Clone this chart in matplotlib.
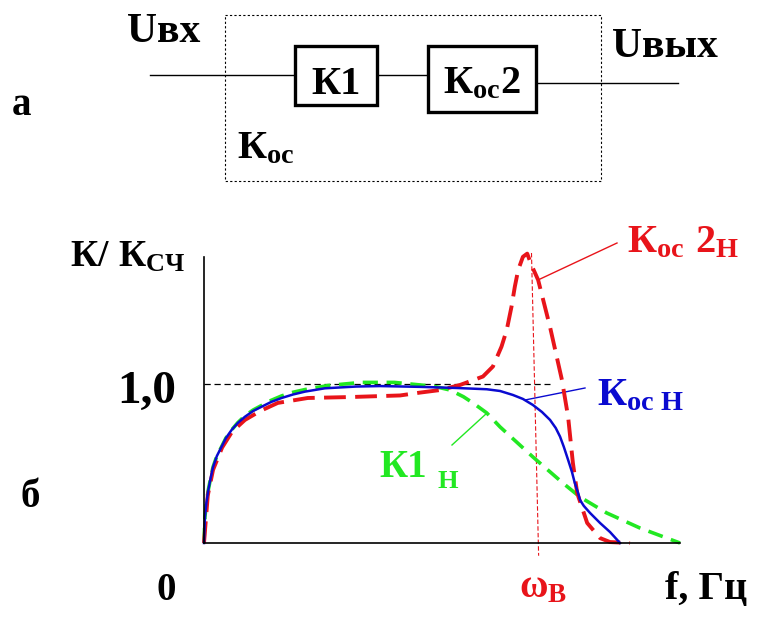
import matplotlib
matplotlib.use("Agg")
import matplotlib.pyplot as plt

plt.rcParams['font.family'] = ['Liberation Serif', 'DejaVu Serif']
plt.rcParams['font.weight'] = 'bold'
plt.rcParams['mathtext.fontset'] = 'custom'
plt.rcParams['mathtext.rm'] = 'Liberation Serif:bold'
plt.rcParams['mathtext.bf'] = 'Liberation Serif:bold'
plt.rcParams['mathtext.it'] = 'Liberation Serif:bold'

# normalised gain K/Kсч vs frequency (f in arbitrary units, 0..10)
f_koc = [0, 0.01, 0.02, 0.05, 0.09, 0.14, 0.19, 0.27, 0.37, 0.46, 0.58, 0.71, 0.86, 1.03,
         1.21, 1.41, 1.63, 1.87, 2.12, 2.54, 3.20, 3.70, 4.54, 5.30, 5.94, 6.22, 6.49, 6.70,
         6.91, 7.10, 7.27, 7.39, 7.48, 7.56, 7.65, 7.73, 7.79, 7.86, 7.90, 7.98, 8.11, 8.32,
         8.53, 8.74]
k_koc = [0, 0.082, 0.164, 0.252, 0.333, 0.409, 0.478, 0.547, 0.606, 0.660, 0.711, 0.755,
         0.794, 0.830, 0.857, 0.887, 0.912, 0.934, 0.952, 0.973, 0.984, 0.987, 0.982, 0.975,
         0.967, 0.956, 0.931, 0.906, 0.868, 0.824, 0.774, 0.723, 0.669, 0.604, 0.522, 0.447,
         0.377, 0.314, 0.270, 0.233, 0.189, 0.126, 0.069, 0]

f_k1 = [0, 0.01, 0.02, 0.05, 0.09, 0.14, 0.19, 0.27, 0.37, 0.46, 0.58, 0.71, 0.86, 1.03,
        1.21, 1.41, 1.63, 1.87, 2.12, 2.60, 3.30, 4.00, 4.54, 4.81, 5.17, 5.45, 5.65, 5.94,
        6.22, 6.91, 7.54, 7.90, 8.46, 9.16, 10.0]
k_k1 = [0, 0.082, 0.164, 0.252, 0.333, 0.409, 0.478, 0.547, 0.606, 0.660, 0.711, 0.757,
        0.800, 0.836, 0.865, 0.897, 0.925, 0.948, 0.965, 0.990, 1.010, 1.010, 0.994, 0.987,
        0.962, 0.920, 0.881, 0.818, 0.730, 0.541, 0.377, 0.289, 0.189, 0.094, 0]

f_koc2 = [0, 0.04, 0.08, 0.19, 0.38, 0.59, 0.86, 1.18, 1.55, 2.18, 3.07, 4.12, 4.54, 4.96,
          5.38, 5.86, 6.07, 6.25, 6.36, 6.46, 6.53, 6.60, 6.70, 6.79, 6.88, 7.02, 7.27, 7.52,
          7.65, 7.75, 7.84, 8.05, 8.32, 8.53, 8.95]
k_koc2 = [0, 0.15, 0.30, 0.46, 0.60, 0.70, 0.774, 0.830, 0.881, 0.912, 0.918, 0.928, 0.946,
          0.962, 0.994, 1.047, 1.110, 1.235, 1.340, 1.486, 1.612, 1.717, 1.800, 1.820, 1.748,
          1.654, 1.358, 1.025, 0.792, 0.503, 0.314, 0.126, 0.031, 0.006, 0]

w_b = [6.88, 7.03]          # upper cut-off marker ωв
w_b_k = [1.824, -0.08]
ref_f = [0, 7.27]           # K = 1,0 reference level
ref_k = [1.0, 1.0]

RED, BLUE, GREEN = '#e8141a', '#0a0ad0', '#22e822'

fig = plt.figure(figsize=(7.61, 6.24), dpi=100)

# overlay in pixel coordinates for the block diagram and labels
ov = fig.add_axes([0, 0, 1, 1])
ov.set_xlim(0, 761); ov.set_ylim(624, 0); ov.axis('off')

# ---- block diagram (а) ----
ov.add_patch(plt.Rectangle((225, 15), 376, 166, fill=False, ls=(0, (2, 2)), lw=0.8, ec='k'))
ov.add_patch(plt.Rectangle((295, 46), 82, 59, fill=False, lw=2.4, ec='k'))
ov.add_patch(plt.Rectangle((428, 46), 108, 66, fill=False, lw=2.4, ec='k'))
ov.plot([150, 295], [75, 75], color='k', lw=1.0)
ov.plot([377, 428], [75, 75], color='k', lw=1.0)
ov.plot([536, 678], [83, 83], color='k', lw=1.0)

kw = dict(ha='left', va='baseline', fontweight='bold')
ov.text(127, 42, 'Uвх', fontsize=30, **kw)
ov.text(612, 57, 'Uвых', fontsize=30, **kw)
ov.text(12, 115, 'а', fontsize=28, **kw)
ov.text(336, 94, 'К1', fontsize=29, ha='center', va='baseline', fontweight='bold')
ov.text(443, 93, r'$\mathbf{К}_{\mathbf{ос}}\mathbf{2}$', fontsize=29, **kw)
ov.text(237, 158, r'$\mathbf{К}_{\mathbf{ос}}$', fontsize=29, **kw)

# ---- frequency response (б) ----
ax = fig.add_axes([204 / 761, (624 - 543) / 624, 476 / 761, 286 / 624])
ax.patch.set_visible(False)
ax.set_xlim(0, 10); ax.set_ylim(0, 286 / 159)
for s in ['top', 'right']:
    ax.spines[s].set_visible(False)
for s in ['left', 'bottom']:
    ax.spines[s].set_linewidth(1.2)
ax.set_xticks([]); ax.set_yticks([])

ax.plot(ref_f, ref_k, color='k', lw=0.9, ls=(0, (5, 3)), clip_on=False)
ax.plot(w_b, w_b_k, color=RED, lw=0.8, ls=(0, (4, 2)), clip_on=False)
ax.plot(f_k1, k_k1, color=GREEN, lw=2.6, dashes=(4.2, 2.4), clip_on=False)
ax.plot(f_koc2, k_koc2, color=RED, lw=2.8, dashes=(5.6, 2.4), clip_on=False)
ax.plot(f_koc, k_koc, color=BLUE, lw=1.8, clip_on=False)

# leaders
ov.plot([538, 617], [280, 243], color=RED, lw=1.0)
ov.plot([525, 585], [400, 388], color=BLUE, lw=1.0)
ov.plot([452, 487], [445, 413], color=GREEN, lw=1.0)

ov.text(70, 267, r'$\mathbf{К/\ К}_{\mathbf{СЧ}}$', fontsize=27, **kw)
ov.text(117, 403, '1,0', fontsize=34, **kw)
ov.text(20, 507, 'б', fontsize=28, **kw)
ov.text(157, 600, '0', fontsize=28, **kw)
ov.text(665, 599, 'f, Гц', fontsize=29, **kw)
ov.text(519, 597, r'$\mathbf{ω}_{\mathbf{В}}$', fontsize=28, color=RED, **kw)
ov.text(627, 252, r'$\mathbf{К}_{\mathbf{ос}}\ \mathbf{2}_{\mathbf{Н}}$', fontsize=29, color=RED, **kw)
ov.text(597, 405, r'$\mathbf{К}_{\mathbf{ос\ Н}}$', fontsize=29, color=BLUE, **kw)
ov.text(379, 477, 'К1', fontsize=28, color=GREEN, **kw)
ov.text(437, 488, 'Н', fontsize=19, color=GREEN, **kw)

fig.savefig('out.png', dpi=100)
